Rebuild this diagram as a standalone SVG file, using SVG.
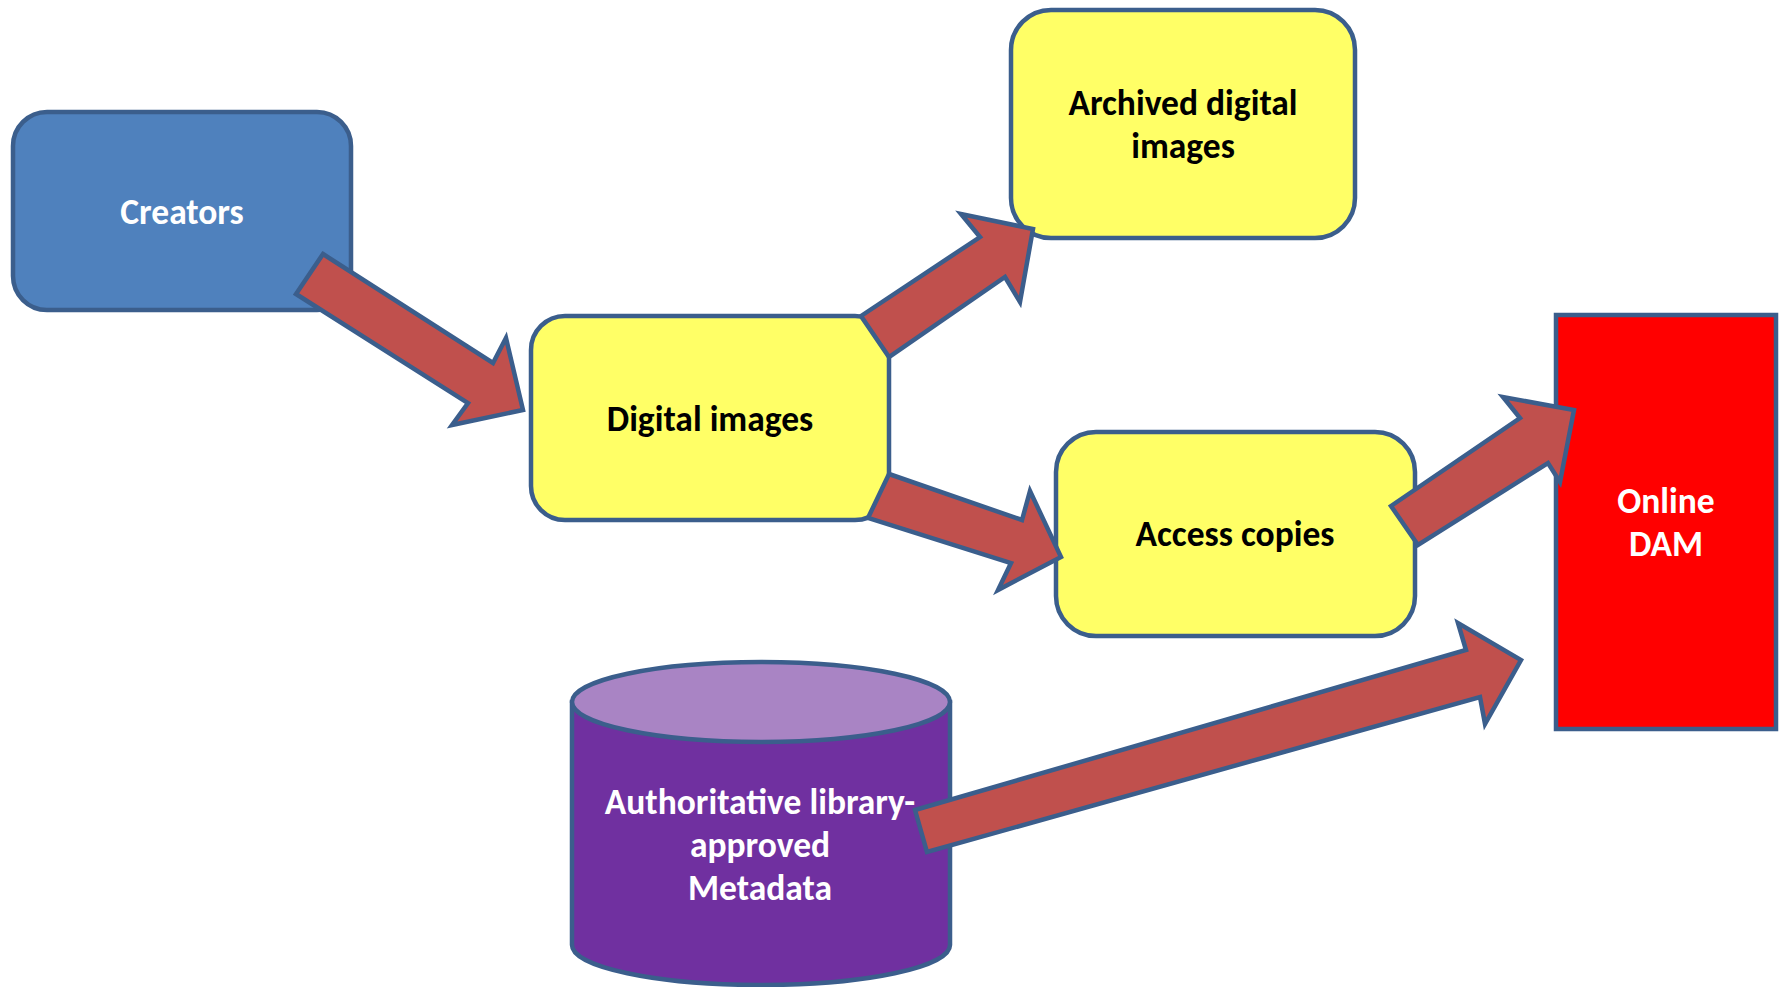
<svg xmlns="http://www.w3.org/2000/svg" width="1785" height="987" viewBox="0 0 1785 987">
  <style>
    .edge { stroke: #3B5E8C; stroke-width: 4.5; stroke-linejoin: miter; }
    .yellow { fill: #FFFF66; }
    .arrow { fill: #C0504D; stroke: #3B5E8C; stroke-width: 4.5; stroke-linejoin: miter; }
    .label { font-family: Carlito, Lato, "Open Sans", sans-serif; font-weight: bold; font-size: 35.5px; text-anchor: middle; }
    .dark { fill: #000000; }
    .light { fill: #FFFFFF; }
  </style>
  <rect width="1785" height="987" fill="#FFFFFF"/>

  <!-- Nodes -->
  <g id="creators">
    <rect class="edge" x="13" y="112" width="338" height="198" rx="34" ry="34" fill="#4F81BD"/>
    <text class="label light" x="182" y="224">Creators</text>
  </g>

  <g id="digital-images">
    <rect class="edge yellow" x="531" y="316" width="358" height="204" rx="34" ry="34"/>
    <text class="label dark" x="710" y="431">Digital images</text>
  </g>

  <g id="archived-digital-images">
    <rect class="edge yellow" x="1011" y="10" width="344" height="228" rx="40" ry="40"/>
    <text class="label dark" x="1183" y="115">Archived digital</text>
    <text class="label dark" x="1183" y="158">images</text>
  </g>

  <g id="access-copies">
    <rect class="edge yellow" x="1056" y="432" width="359" height="204" rx="40" ry="40"/>
    <text class="label dark" x="1235" y="546">Access copies</text>
  </g>

  <g id="online-dam">
    <rect class="edge" x="1556" y="315" width="220" height="414" fill="#FF0000"/>
    <text class="label light" x="1666" y="513">Online</text>
    <text class="label light" x="1666" y="556">DAM</text>
  </g>

  <g id="metadata">
    <path class="edge" d="M572,702 L572,945 A189,40 0 0 0 950,945 L950,702 Z" fill="#7030A0"/>
    <ellipse class="edge" cx="761" cy="702" rx="189" ry="40" fill="#A984C4"/>
    <text class="label light" x="760" y="814">Authoritative library-</text>
    <text class="label light" x="760" y="857">approved</text>
    <text class="label light" x="760" y="900">Metadata</text>
  </g>

  <!-- Connectors: block arrows -->
  <g id="connectors">
    <polygon class="arrow" points="323,254 493,363 506,338 523,410 452,425 468,403 296,294"/>
    <polygon class="arrow" points="861,316 980,237 961,214 1033,229 1020,302 1005,277 889,357"/>
    <polygon class="arrow" points="889,474 1022,520 1030,491 1061,557 998,590 1011,563 868,518"/>
    <polygon class="arrow" points="1391,506 1520,418 1503,397 1574,410 1560,482 1548,463 1418,545"/>
    <polygon class="arrow" points="915,810 1466,650 1458,623 1521,660 1485,724 1480,697 927,852"/>
  </g>
</svg>
